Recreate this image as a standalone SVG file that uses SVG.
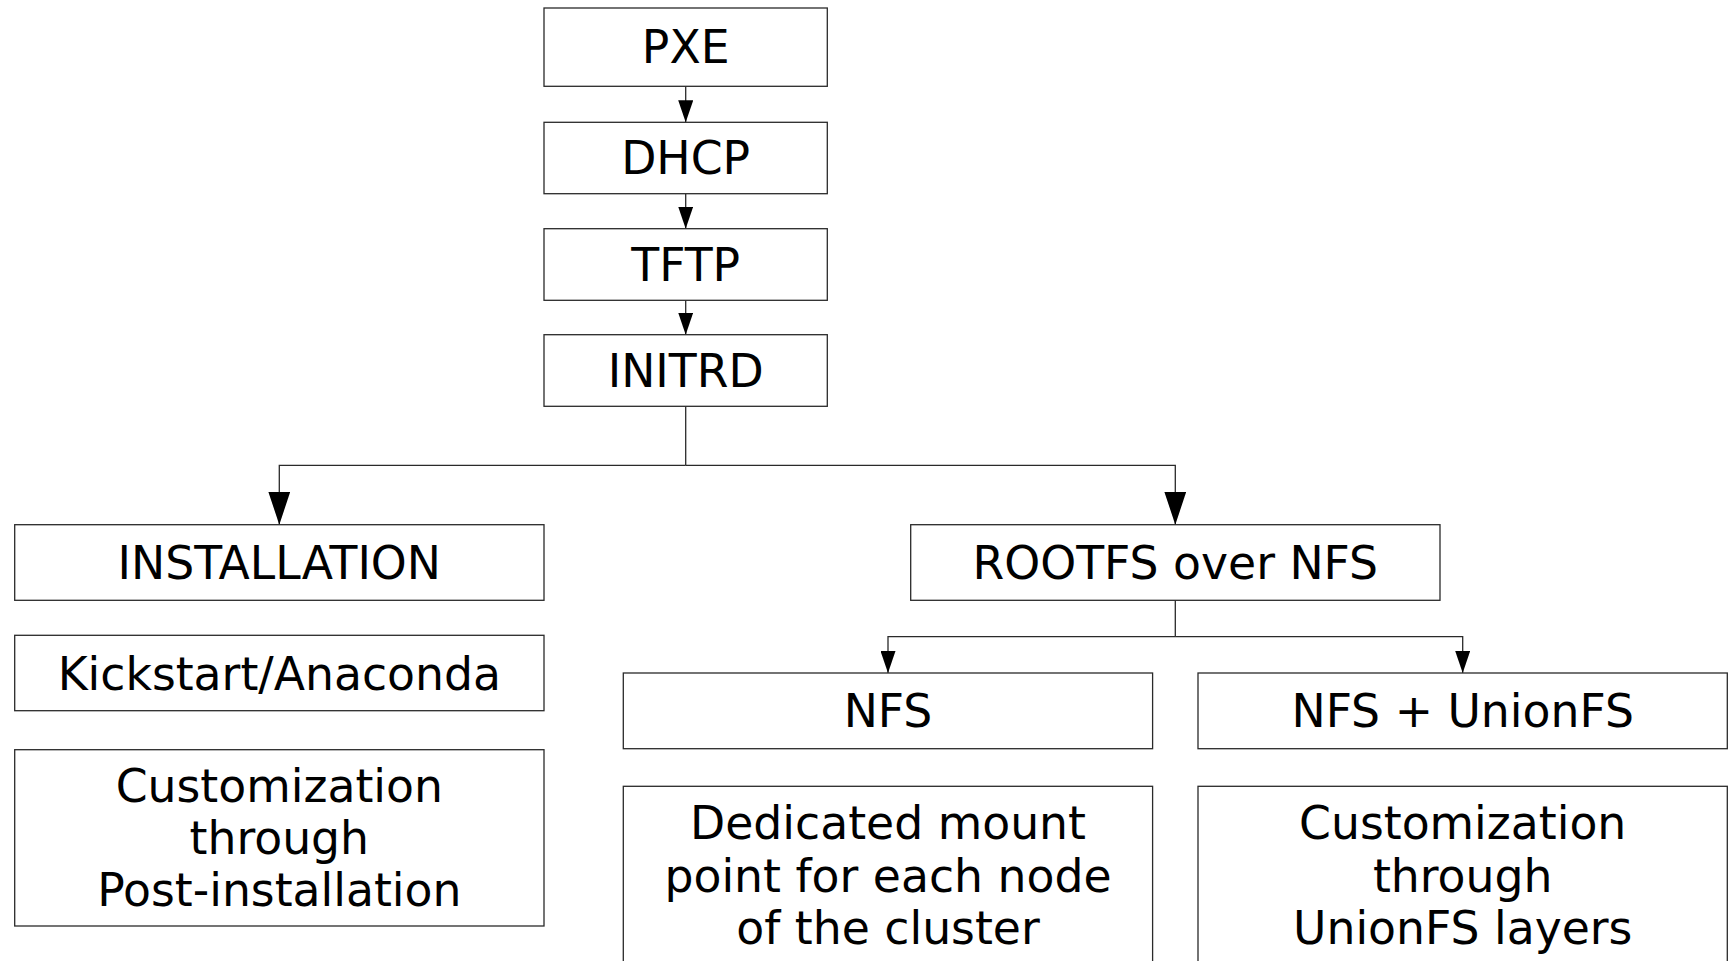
<svg xmlns="http://www.w3.org/2000/svg" width="1730" height="961" viewBox="0 0 1730 961">
<style>
.box{fill:#fff;stroke:#2a2a2a;stroke-width:1.3}
.t{font-family:"DejaVu Sans","Verdana",sans-serif;font-size:45.7px;fill:#000;text-anchor:middle}
.ln{fill:none;stroke:#2a2a2a;stroke-width:1.3}
</style>
<defs>
<marker id="aS" markerUnits="userSpaceOnUse" markerWidth="22" markerHeight="15" viewBox="0 0 22 15" refX="22" refY="7.5" orient="auto"><path d="M0,0 L22,7.5 L0,15 z" fill="#000"/></marker>
<marker id="aL" markerUnits="userSpaceOnUse" markerWidth="33" markerHeight="22" viewBox="0 0 33 22" refX="33" refY="11" orient="auto"><path d="M0,0 L33,11 L0,22 z" fill="#000"/></marker>
</defs>
<rect width="1730" height="961" fill="#fff"/>
<g id="connectors">
<path class="ln" d="M685.7,86.3 V122.3" marker-end="url(#aS)"/>
<path class="ln" d="M685.7,193.7 V228.7" marker-end="url(#aS)"/>
<path class="ln" d="M685.7,300.3 V334.7" marker-end="url(#aS)"/>
<path class="ln" d="M685.7,406.3 V465.3"/>
<path class="ln" d="M685.7,465.3 H279.3 V524.7" marker-end="url(#aL)"/>
<path class="ln" d="M685.7,465.3 H1175.3 V524.7" marker-end="url(#aL)"/>
<path class="ln" d="M1175.3,600.3 V636.7"/>
<path class="ln" d="M1175.3,636.7 H888 V673" marker-end="url(#aS)"/>
<path class="ln" d="M1175.3,636.7 H1462.7 V673" marker-end="url(#aS)"/>
</g>
<g id="pxe"><rect class="box" x="544" y="8" width="283.3" height="78.3"/><text class="t" x="685.7" y="63">PXE</text></g>
<g id="dhcp"><rect class="box" x="544" y="122.3" width="283.3" height="71.4"/><text class="t" x="685.7" y="174.3">DHCP</text></g>
<g id="tftp"><rect class="box" x="544" y="228.7" width="283.3" height="71.6"/><text class="t" x="685.7" y="280.5">TFTP</text></g>
<g id="initrd"><rect class="box" x="544" y="334.7" width="283.3" height="71.6"/><text class="t" x="685.7" y="386.8">INITRD</text></g>
<g id="installation"><rect class="box" x="14.7" y="524.7" width="529.3" height="75.6"/><text class="t" x="279.3" y="579">INSTALLATION</text></g>
<g id="kickstart"><rect class="box" x="14.7" y="635.3" width="529.3" height="75.4"/><text class="t" x="279.3" y="689.6">Kickstart/Anaconda</text></g>
<g id="postinstall"><rect class="box" x="14.7" y="749.7" width="529.3" height="176.3"/><text class="t" x="279.3" y="801.7">Customization</text><text class="t" x="279.3" y="853.5">through</text><text class="t" x="279.3" y="905.5">Post-installation</text></g>
<g id="rootfs"><rect class="box" x="910.7" y="524.7" width="529.3" height="75.6"/><text class="t" x="1175.3" y="579">ROOTFS over NFS</text></g>
<g id="nfs"><rect class="box" x="623.3" y="673" width="529.3" height="75.7"/><text class="t" x="888" y="727">NFS</text></g>
<g id="nfsunion"><rect class="box" x="1198" y="673" width="529.3" height="75.7"/><text class="t" x="1462.7" y="727">NFS + UnionFS</text></g>
<g id="dedicated"><rect class="box" x="623.3" y="786.3" width="529.3" height="200"/><text class="t" x="888" y="839.3">Dedicated mount</text><text class="t" x="888" y="891.7">point for each node</text><text class="t" x="888" y="944">of the cluster</text></g>
<g id="unionlayers"><rect class="box" x="1198" y="786.3" width="529.3" height="200"/><text class="t" x="1462.7" y="839.3">Customization</text><text class="t" x="1462.7" y="891.7">through</text><text class="t" x="1462.7" y="944">UnionFS layers</text></g>
</svg>
